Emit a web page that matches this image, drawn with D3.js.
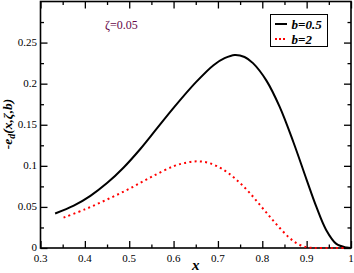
<!DOCTYPE html>
<html>
<head>
<meta charset="utf-8">
<script src="https://cdn.jsdelivr.net/npm/d3@7"></script>
<style>
body { margin: 0; background: #fff; }
svg text { font-family: "Liberation Serif", Tinos, "DejaVu Serif", serif; }
</style>
</head>
<body>
<div class="chart"></div>
<script>
var svgWidth = 354;
var svgHeight = 273;

// plot frame in pixels
var margin = {top: 1.5, right: 3, bottom: 25, left: 40.5};
var width = svgWidth - margin.left - margin.right;
var height = svgHeight - margin.top - margin.bottom;

// b = 0.5 (solid black)
var xHalf = [0.333, 0.375, 0.4125, 0.45, 0.4875, 0.525, 0.5625, 0.6, 0.65, 0.69, 0.715, 0.738, 0.76, 0.779, 0.809, 0.839, 0.87, 0.9, 0.922, 0.944, 0.967, 0.99, 1.0];
var yHalf = [0.042, 0.0515, 0.0635, 0.079, 0.098, 0.1205, 0.1455, 0.1705, 0.2015, 0.2225, 0.231, 0.235, 0.2325, 0.225, 0.204, 0.172, 0.129, 0.083, 0.050, 0.022, 0.005, 0.0005, 0];

// b = 2 (red dotted)
var xTwo = [0.352, 0.4, 0.45, 0.5, 0.55, 0.6, 0.63, 0.655, 0.68, 0.71, 0.74, 0.77, 0.8, 0.83, 0.86, 0.88, 0.9, 0.92, 0.96, 0.99];
var yTwo = [0.037, 0.047, 0.059, 0.072, 0.0865, 0.0995, 0.104, 0.1055, 0.1035, 0.096, 0.084, 0.068, 0.049, 0.030, 0.013, 0.005, 0.001, 0, 0, 0];

var xTicks = [0.3, 0.4, 0.5, 0.6, 0.7, 0.8, 0.9, 1];
var yTicks = [0, 0.05, 0.1, 0.15, 0.2, 0.25];
var xMinor = [0.35, 0.45, 0.55, 0.65, 0.75, 0.85, 0.95];
var yMinor = [0.025, 0.075, 0.125, 0.175, 0.225, 0.275];

var seriesNames = ["b=0.5", "b=2"];
var zetaLabel = "\u03b6=0.05";

var $svg = d3.select(".chart")
    .append("svg")
    .attr("width", svgWidth)
    .attr("height", svgHeight);

var $chartGroup = $svg.append("g")
    .attr("transform", `translate(${margin.left}, ${margin.top})`);

var xScale = d3.scaleLinear().domain([0.3, 1]).range([0, width]);
var yScale = d3.scaleLinear().domain([0, 0.3]).range([height, 0]);

// inward ticks on all four sides
function tickAxis(axisFn, scale, ticks, size) {
    return axisFn(scale).tickValues(ticks).tickSize(size).tickFormat(() => "");
}

// frame first, curves are drawn over it
$chartGroup.append("rect")
    .attr("width", width)
    .attr("height", height)
    .attr("fill", "none")
    .attr("stroke", "#000")
    .attr("stroke-width", 1.6);

$chartGroup.append("g")
    .attr("transform", `translate(0,${height})`)
    .call(tickAxis(d3.axisTop, xScale, xTicks, 7));
$chartGroup.append("g")
    .attr("transform", `translate(0,${height})`)
    .call(tickAxis(d3.axisTop, xScale, xMinor, 3.5));
$chartGroup.append("g")
    .call(tickAxis(d3.axisBottom, xScale, xTicks, 7));
$chartGroup.append("g")
    .call(tickAxis(d3.axisBottom, xScale, xMinor, 3.5));

$chartGroup.append("g")
    .call(tickAxis(d3.axisRight, yScale, yTicks, 7));
$chartGroup.append("g")
    .call(tickAxis(d3.axisRight, yScale, yMinor, 3.5));
$chartGroup.append("g")
    .attr("transform", `translate(${width},0)`)
    .call(tickAxis(d3.axisLeft, yScale, yTicks, 7));
$chartGroup.append("g")
    .attr("transform", `translate(${width},0)`)
    .call(tickAxis(d3.axisLeft, yScale, yMinor, 3.5));

// d3 axes set font-family="sans-serif" on their groups; drop it with the labels
$chartGroup.selectAll("g").attr("font-family", null);
$chartGroup.selectAll(".domain").remove();
$chartGroup.selectAll(".tick text").remove();
$chartGroup.selectAll(".tick line").attr("stroke", "#000").attr("stroke-width", 1.3);

// tick labels
$chartGroup.selectAll(".xTickLabel")
    .data(xTicks)
    .enter()
    .append("text")
    .attr("class", "xTickLabel")
    .attr("x", d => xScale(d))
    .attr("y", height + 14)
    .attr("text-anchor", "middle")
    .attr("font-size", "11px")
    .text(d => d3.format("")(d));

$chartGroup.selectAll(".yTickLabel")
    .data(yTicks)
    .enter()
    .append("text")
    .attr("class", "yTickLabel")
    .attr("x", -3.5)
    .attr("y", d => yScale(d))
    .attr("dy", "0.3em")
    .attr("text-anchor", "end")
    .attr("font-size", "11px")
    .text(d => d3.format("")(d));

// curves
var line = d3.line()
    .x(d => xScale(d[0]))
    .y(d => yScale(d[1]))
    .curve(d3.curveCatmullRom.alpha(0.5));

$chartGroup.append("path")
    .datum(xHalf.map((d, i) => [d, yHalf[i]]))
    .attr("fill", "none")
    .attr("stroke", "#000")
    .attr("stroke-width", 2)
    .attr("d", line);

$chartGroup.append("path")
    .datum(xTwo.map((d, i) => [d, yTwo[i]]))
    .attr("fill", "none")
    .attr("stroke", "#ff0000")
    .attr("stroke-width", 2)
    .attr("stroke-dasharray", "2,3.3")
    .attr("d", line);

// zeta annotation
$chartGroup.append("text")
    .attr("x", 64.5)
    .attr("y", 27.5)
    .attr("font-size", "12px")
    .attr("fill", "#670748")
    .text(zetaLabel);

// legend
var $legend = $svg.append("g").attr("transform", "translate(270.5,14.5)");
$legend.append("rect")
    .attr("width", 57)
    .attr("height", 32)
    .attr("fill", "#fff")
    .attr("stroke", "#000")
    .attr("stroke-width", 1);

var legendStyle = [{stroke: "#000", dash: null}, {stroke: "#ff0000", dash: "2,2"}];
seriesNames.forEach((name, i) => {
    var y = 9.5 + i * 15;
    $legend.append("line")
        .attr("x1", 4.5).attr("x2", 16.5)
        .attr("y1", y).attr("y2", y)
        .attr("stroke", legendStyle[i].stroke)
        .attr("stroke-width", 2)
        .attr("stroke-dasharray", legendStyle[i].dash);
    $legend.append("text")
        .attr("x", 21)
        .attr("y", y + 4.5)
        .attr("font-size", "13px")
        .attr("font-weight", "bold")
        .attr("font-style", "italic")
        .text(name);
});

// axis titles
$svg.append("text")
    .attr("x", margin.left + width / 2)
    .attr("y", 270)
    .attr("text-anchor", "middle")
    .attr("font-size", "15px")
    .attr("font-weight", "bold")
    .attr("font-style", "italic")
    .text("x");

var $yTitle = $svg.append("text")
    .attr("transform", "translate(12,124) rotate(-90)")
    .attr("text-anchor", "middle")
    .attr("font-size", "13.5px")
    .attr("font-weight", "bold")
    .attr("font-style", "italic");
$yTitle.append("tspan").text("-e");
$yTitle.append("tspan").attr("dy", 3).attr("font-size", "10px").text("d");
$yTitle.append("tspan").attr("dy", -3).text("(x,\u03b6,b)");
</script>
</body>
</html>
